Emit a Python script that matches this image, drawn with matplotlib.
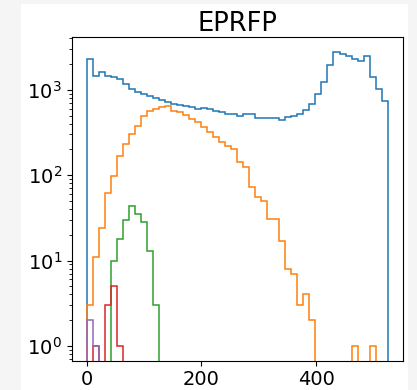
import numpy as np
import matplotlib
matplotlib.use("Agg")
import matplotlib.pyplot as plt
from matplotlib.patches import Rectangle

# shared bin edges (50 bins)
bin_edges = np.linspace(0, 525, 51)

# counts per bin
blue_counts = [2270, 1450, 1640, 1470, 1410, 1350, 1180, 1010, 955, 900,
               857, 805, 770, 728, 690, 666, 654, 626, 598, 614,
               598, 571, 555, 522, 522, 499, 522, 522, 465, 465,
               465, 465, 448, 477, 488, 515, 582, 684, 898, 1253,
               1968, 2780, 2654, 2490, 2272, 2152, 2490, 1410, 1028, 748]
orange_counts = [3, 11, 24, 62, 98, 169, 230, 305, 380, 500,
                 570, 595, 625, 640, 570, 550, 510, 455, 415, 365,
                 318, 280, 244, 220, 202, 142, 124, 72, 55, 50,
                 31, 31, 17, 8, 7, 3, 4, 2, 0, 0,
                 0, 0, 0, 0, 1, 0, 0, 1, 0, 0]
green_counts = [0, 0, 0, 0, 10, 18, 30, 43, 35, 28, 13, 3] + [0] * 38
red_counts = [0, 1, 0, 3, 5, 1] + [0] * 44
purple_counts = [2, 1] + [0] * 48

series = [blue_counts, orange_counts, green_counts, red_counts, purple_counts]
colors = ["#1f77b4", "#ff7f0e", "#2ca02c", "#d62728", "#9467bd"]

centers = (bin_edges[:-1] + bin_edges[1:]) / 2

fig = plt.figure(figsize=(4.17, 3.90), dpi=100, facecolor="#f5f5f5")
fig.patches.append(Rectangle((21 / 417, 0), (408 - 21) / 417, (390 - 4) / 390,
                             transform=fig.transFigure, facecolor="white",
                             edgecolor="none", zorder=-1))
ax = fig.add_axes([0.172, 0.0756, 0.7937, 0.8288])

for counts, c in zip(series, colors):
    ax.hist(centers, bins=bin_edges, weights=counts, histtype="step",
            log=True, color=c, linewidth=1.1)

ax.set_title("EPRFP", fontsize=18.5, pad=4)
ax.tick_params(labelsize=14)
ax.set_xticks([0, 200, 400])

fig.savefig("out.png", dpi=100, facecolor=fig.get_facecolor())
